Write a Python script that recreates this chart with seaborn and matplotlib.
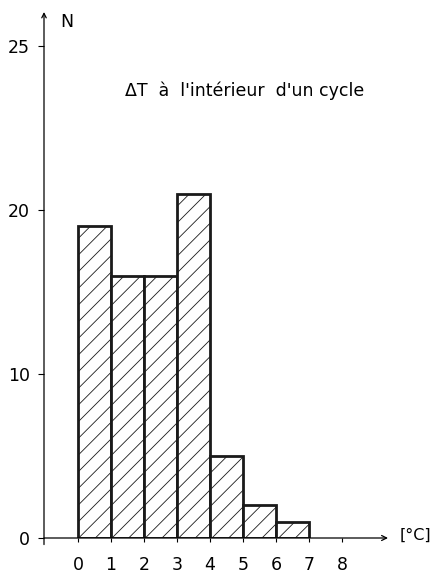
import matplotlib
matplotlib.use("Agg")
import matplotlib.pyplot as plt
import seaborn as sns
import numpy as np

# Data
bin_left = [0, 1, 2, 3, 4, 5, 6]
counts = [19, 16, 16, 21, 5, 2, 1]
bin_edges = [0, 1, 2, 3, 4, 5, 6, 7]
x_ticks = [0, 1, 2, 3, 4, 5, 6, 7, 8]
x_tick_labels = ["0", "1", "2", "3", "4", "5", "6", "7", "8"]
y_ticks = [0, 10, 20, 30]
y_tick_labels = ["0", "10", "20", "25"]
title = "ΔT  à  l'intérieur  d'un cycle"
y_label = "N"
x_label = "[°C]"

sns.set_theme(style="white")
plt.rcParams['font.family'] = ['DejaVu Sans']
plt.rcParams['hatch.linewidth'] = 0.6
plt.rcParams['text.color'] = 'black'
plt.rcParams['xtick.color'] = 'black'
plt.rcParams['ytick.color'] = 'black'

W, H = 434, 575
fig = plt.figure(figsize=(W / 100, H / 100), dpi=100)
# pixel geometry
x_axis_px = 44
y0_px = 538
top_px = 12
right_px = 388
x0_px = 78
ux = 33.0
uy = 16.4
ax = fig.add_axes([x_axis_px / W, (H - y0_px) / H, (right_px - x_axis_px) / W, (y0_px - top_px) / H])
xmin = (x_axis_px - x0_px) / ux
xmax = (right_px - x0_px) / ux
ymax = (y0_px - top_px) / uy
ax.set_xlim(xmin, xmax)
ax.set_ylim(0, ymax)

sns.histplot(x=bin_left, weights=counts, bins=bin_edges, ax=ax, stat="count",
             color="white", edgecolor="black", linewidth=2.0, alpha=1.0)
for p in ax.patches:
    p.set_hatch("//")
    p.set_facecolor("white")
    p.set_edgecolor("#1a1a1a")

ax.set_xlabel("")
ax.set_ylabel("")
for s in ax.spines.values():
    s.set_visible(False)

# axes with arrows
ax.annotate("", xy=(xmax, 0), xytext=(xmin, 0), xycoords="data",
            arrowprops=dict(arrowstyle="->", color="black", lw=0.9, mutation_scale=9,
                            shrinkA=0, shrinkB=0), annotation_clip=False)
ax.annotate("", xy=(xmin, ymax), xytext=(xmin, -0.4), xycoords="data",
            arrowprops=dict(arrowstyle="->", color="black", lw=0.9, mutation_scale=8,
                            shrinkA=0, shrinkB=0), annotation_clip=False)

ax.set_xticks(x_ticks)
ax.set_xticklabels(x_tick_labels, fontsize=12.5, color="black")
ax.set_yticks(y_ticks)
ax.set_yticklabels(y_tick_labels, fontsize=12.5, color="black")
ax.tick_params(axis="y", direction="out", length=4, width=0.8, color="black", pad=6, left=True)
ax.tick_params(axis="x", direction="out", length=3, width=0.8, color="black", pad=10, bottom=True)

ax.text(xmin + 0.5, ymax - 0.6, y_label, fontsize=12.5, ha="left", va="center", color="black")
ax.text(xmax + 0.35, 0.15, x_label, fontsize=11.5, ha="left", va="center", clip_on=False, color="black")
ax.text(5.05, (538 - 91) / uy, title, fontsize=12.5, ha="center", va="center", color="black")

fig.savefig("out.png", dpi=100)
